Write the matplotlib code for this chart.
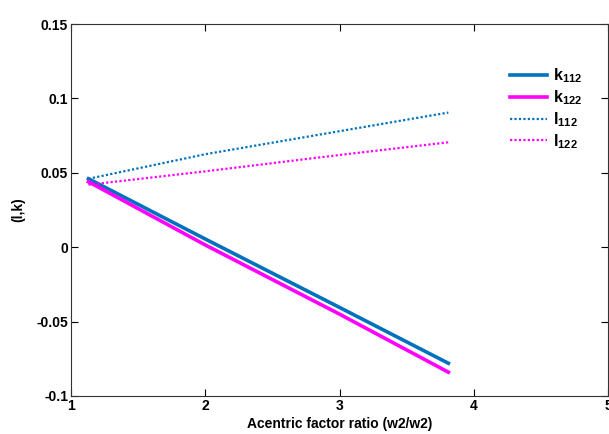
import matplotlib
matplotlib.use('Agg')
import matplotlib.pyplot as plt

plt.rcParams['font.family'] = ['Liberation Sans', 'DejaVu Sans']
plt.rcParams['font.weight'] = 'bold'
plt.rcParams['mathtext.fontset'] = 'custom'
plt.rcParams['mathtext.rm'] = 'Liberation Sans:bold'
plt.rcParams['mathtext.bf'] = 'Liberation Sans:bold'
plt.rcParams['mathtext.default'] = 'bf'

# acentric factor ratio and interaction parameters
ratio = [1.13, 2.0, 3.0, 3.81]
k112 = [0.046, 0.0055, -0.0405, -0.078]
k122 = [0.044, 0.0015, -0.0450, -0.084]
l112 = [0.046, 0.0625, 0.0780, 0.0905]
l122 = [0.042, 0.0510, 0.0620, 0.0705]

BLUE = (0.0, 0.447, 0.741)
MAGENTA = (1.0, 0.0, 1.0)

fig = plt.figure(figsize=(6.09, 4.34), dpi=100)
ax = fig.add_axes([0.1166, 0.0876, 0.882, 0.857])

ax.plot(ratio, k112, color=BLUE, lw=2.6, label=r'k$_{112}$')
ax.plot(ratio, k122, color=MAGENTA, lw=2.6, label=r'k$_{122}$')
ax.plot(ratio, l112, color=BLUE, lw=1.6, ls=(0, (1, 1)), label=r'l$_{112}$')
ax.plot(ratio, l122, color=MAGENTA, lw=1.6, ls=(0, (1, 1)), label=r'l$_{122}$')

ax.set_xlim(1, 5)
ax.set_ylim(-0.1, 0.15)
ax.set_xticks([1, 2, 3, 4, 5])
ax.set_yticks([-0.1, -0.05, 0, 0.05, 0.1, 0.15])
ax.set_yticklabels(['-0.1', '-0.05', '0', '0.05', '0.1', '0.15'])
ax.tick_params(direction='in', top=True, right=True, length=5, width=0.8,
               labelsize=10, pad=2)
for s in ax.spines.values():
    s.set_linewidth(0.8)
    s.set_color('#333333')

ax.set_xlabel('Acentric factor ratio (w2/w2)', fontsize=10, fontweight='bold', labelpad=3)
ax.set_ylabel('(l,k)', fontsize=10, fontweight='bold', labelpad=8)

ax.legend(loc='upper right', bbox_to_anchor=(0.978, 0.925), frameon=False,
          fontsize=11.5, handlelength=2.3, handletextpad=0.35, labelspacing=0.2)

fig.savefig('out.png', dpi=100)
